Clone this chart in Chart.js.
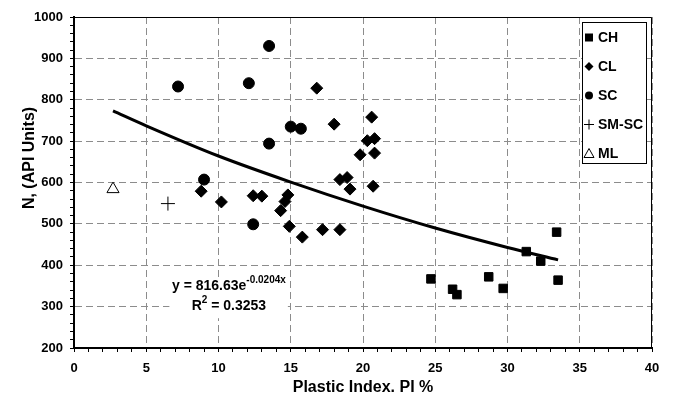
<!DOCTYPE html>
<html>
<head>
<meta charset="utf-8">
<script src="https://cdn.jsdelivr.net/npm/chart.js@4/dist/chart.umd.min.js"></script>
<style>
  html, body { margin: 0; padding: 0; background: #fff; }
</style>
</head>
<body>
<canvas id="chart" width="674" height="394"></canvas>
<script>
// values
const chX = [24.7, 26.2, 26.5, 28.7, 29.7, 31.3, 32.3, 33.4, 33.5];
const chY = [367, 342, 329, 372, 344, 433, 410, 480, 364];
const clX = [8.8, 10.2, 12.4, 13.0, 14.3, 14.6, 14.8, 14.9, 15.8, 16.8, 17.2, 18.0, 18.4, 18.4, 18.9, 19.1, 19.8, 20.3, 20.6, 20.7, 20.8, 20.8];
const clY = [579, 553, 568, 567, 532, 554, 570, 494, 468, 828, 486, 741, 607, 486, 612, 584, 667, 701, 758, 591, 706, 671];
const scX = [7.2, 9.0, 12.1, 12.4, 13.5, 13.5, 15.0, 15.7];
const scY = [832, 607, 840, 499, 930, 694, 735, 730];
const smscX = [6.5];
const smscY = [549];
const mlX = [2.7];
const mlY = [584];
// exponential trend line as drawn
const trendX = [2.7, 5, 10, 15, 20, 25, 30, 33.5];
const trendY = [773, 737, 664, 601, 543, 490, 443, 413];

const seriesNames = ['CH', 'CL', 'SC', 'SM-SC', 'ML'];
const eqText = 'y = 816.63e';
const eqSup = '-0.0204x';
const r2Text = ' = 0.3253';

const pts = (xs, ys) => xs.map((x, i) => ({x: x, y: ys[i]}));
const FONT = '"Liberation Sans", Arial, sans-serif';

const markerStyles = [
  {pointStyle: 'rect', pointRadius: 6, backgroundColor: '#000', borderColor: '#000'},
  {pointStyle: 'rectRot', pointRadius: 6, backgroundColor: '#000', borderColor: '#000'},
  {pointStyle: 'circle', pointRadius: 5.5, backgroundColor: '#000', borderColor: '#000'},
  {pointStyle: 'cross', pointRadius: 7, backgroundColor: '#000', borderColor: '#000'},
  {pointStyle: 'triangle', pointRadius: 7, backgroundColor: '#fff', borderColor: '#000'}
];
const seriesData = [pts(chX, chY), pts(clX, clY), pts(scX, scY), pts(smscX, smscY), pts(mlX, mlY)];

const datasets = seriesNames.map((name, i) => Object.assign({
  label: name,
  data: seriesData[i],
  showLine: false,
  borderWidth: 1,
  pointHoverRadius: 6,
  order: 0
}, markerStyles[i]));

datasets.push({
  label: 'trend',
  data: pts(trendX, trendY),
  showLine: true,
  borderColor: '#000',
  borderWidth: 3,
  pointRadius: 0,
  tension: 0.4,
  cubicInterpolationMode: 'monotone',
  fill: false,
  order: 5
});

// draw a small legend marker by hand
function drawMarker(ctx, style, x, y) {
  ctx.save();
  ctx.fillStyle = '#000';
  ctx.strokeStyle = '#000';
  ctx.lineWidth = 1;
  ctx.beginPath();
  if (style === 'rect') {
    ctx.fillRect(x - 4, y - 4, 8, 8);
  } else if (style === 'rectRot') {
    ctx.moveTo(x - 4.5, y); ctx.lineTo(x, y - 4.5); ctx.lineTo(x + 4.5, y); ctx.lineTo(x, y + 4.5);
    ctx.closePath(); ctx.fill();
  } else if (style === 'circle') {
    ctx.arc(x, y, 4, 0, Math.PI * 2); ctx.fill();
  } else if (style === 'cross') {
    ctx.moveTo(x - 5, y); ctx.lineTo(x + 5, y); ctx.moveTo(x, y - 5); ctx.lineTo(x, y + 5); ctx.stroke();
  } else if (style === 'triangle') {
    ctx.moveTo(x, y - 5); ctx.lineTo(x + 5, y + 4); ctx.lineTo(x - 5, y + 4); ctx.closePath(); ctx.stroke();
  }
  ctx.restore();
}

const overlay = {
  id: 'overlay',
  beforeDatasetsDraw(chart) {
    const ctx = chart.ctx, xs = chart.scales.x, ys = chart.scales.y;
    // white patch behind the trend equation
    const l = xs.getPixelForValue(6.6), r = xs.getPixelForValue(14.8);
    const t = ys.getPixelForValue(371), b = ys.getPixelForValue(272);
    ctx.save();
    ctx.fillStyle = '#fff';
    ctx.fillRect(l, t, r - l, b - t);
    ctx.restore();
  },
  afterDatasetsDraw(chart) {
    const ctx = chart.ctx, a = chart.chartArea, xs = chart.scales.x, ys = chart.scales.y;
    ctx.save();
    // frame on top and right
    ctx.strokeStyle = '#000';
    ctx.lineWidth = 1;
    ctx.beginPath();
    ctx.moveTo(a.left, a.top + 0.5); ctx.lineTo(a.right - 0.5, a.top + 0.5); ctx.lineTo(a.right - 0.5, a.bottom);
    ctx.stroke();

    // trend equation
    const cx = xs.getPixelForValue(10.72);
    const y1 = ys.getPixelForValue(350), y2 = ys.getPixelForValue(301);
    ctx.fillStyle = '#000';
    ctx.textBaseline = 'middle';
    ctx.font = 'bold 14px ' + FONT;
    const w1 = ctx.measureText(eqText).width;
    ctx.font = 'bold 10px ' + FONT;
    const w1s = ctx.measureText(eqSup).width;
    let x0 = cx - (w1 + w1s) / 2;
    ctx.font = 'bold 14px ' + FONT;
    ctx.textAlign = 'left';
    ctx.fillText(eqText, x0, y1);
    ctx.font = 'bold 10px ' + FONT;
    ctx.fillText(eqSup, x0 + w1, y1 - 6);
    ctx.font = 'bold 14px ' + FONT;
    const wR = ctx.measureText('R').width, wR2 = ctx.measureText(r2Text).width;
    ctx.font = 'bold 10px ' + FONT;
    const w2 = ctx.measureText('2').width;
    x0 = cx - (wR + w2 + wR2) / 2;
    ctx.font = 'bold 14px ' + FONT;
    ctx.fillText('R', x0, y2);
    ctx.fillText(r2Text, x0 + wR + w2, y2);
    ctx.font = 'bold 10px ' + FONT;
    ctx.fillText('2', x0 + wR, y2 - 6);

    // legend box
    const bl = a.right - 70, bt = a.top + 5, bw = 64, bh = 141;
    ctx.fillStyle = '#fff';
    ctx.fillRect(bl, bt, bw, bh);
    ctx.strokeStyle = '#000';
    ctx.lineWidth = 1;
    ctx.strokeRect(bl + 0.5, bt + 0.5, bw, bh);
    ctx.font = 'bold 14px ' + FONT;
    ctx.textAlign = 'left';
    ctx.fillStyle = '#000';
    chart.data.datasets.slice(0, seriesNames.length).forEach((ds, i) => {
      const yy = bt + 15.5 + i * 29;
      drawMarker(ctx, ds.pointStyle, bl + 7, yy);
      ctx.fillStyle = '#000';
      ctx.fillText(ds.label, bl + 16, yy + 0.5);
    });

    // y axis title, placed as in the reference
    ctx.translate(30, 158);
    ctx.rotate(-Math.PI / 2);
    ctx.textAlign = 'center';
    ctx.font = 'bold 16px ' + FONT;
    ctx.fillText('N, (API Units)', 0, 0);
    ctx.restore();
  }
};

new Chart(document.getElementById('chart').getContext('2d'), {
  type: 'scatter',
  data: { datasets: datasets },
  options: {
    responsive: false,
    animation: false,
    layout: { padding: { top: 17, right: 22, left: 0, bottom: 0 } },
    plugins: {
      legend: { display: false },
      tooltip: { enabled: false }
    },
    scales: {
      x: {
        type: 'linear',
        min: 0,
        max: 40,
        afterFit: s => { s.height = 46; },
        ticks: {
          stepSize: 1,
          maxTicksLimit: 100,
          autoSkip: false,
          maxRotation: 0,
          padding: 9,
          color: '#000',
          font: { family: FONT, size: 13, weight: 'bold' },
          callback: v => (v % 5 === 0 ? v : '')
        },
        grid: {
          color: c => (c.tick && c.tick.value % 5 === 0 ? '#8c8c8c' : 'rgba(0,0,0,0)'),
          tickColor: '#000',
          tickLength: 4,
          lineWidth: 1
        },
        border: { display: true, color: '#000', width: 2, dash: [7, 4] },
        title: {
          display: true,
          text: 'Plastic Index. PI %',
          color: '#000',
          font: { family: FONT, size: 16, weight: 'bold' },
          padding: { top: -3, bottom: -3 }
        }
      },
      y: {
        type: 'linear',
        min: 200,
        max: 1000,
        afterFit: s => { s.width = 74; },
        ticks: {
          stepSize: 20,
          maxTicksLimit: 100,
          autoSkip: false,
          padding: 7,
          color: '#000',
          font: { family: FONT, size: 13, weight: 'bold' },
          callback: v => (v % 100 === 0 ? v : '')
        },
        grid: {
          color: c => (c.tick && c.tick.value % 100 === 0 ? '#8c8c8c' : 'rgba(0,0,0,0)'),
          tickColor: '#000',
          tickLength: 4,
          lineWidth: 1
        },
        border: { display: true, color: '#000', width: 2, dash: [7, 4] }
      }
    }
  },
  plugins: [overlay]
});
</script>
</body>
</html>
